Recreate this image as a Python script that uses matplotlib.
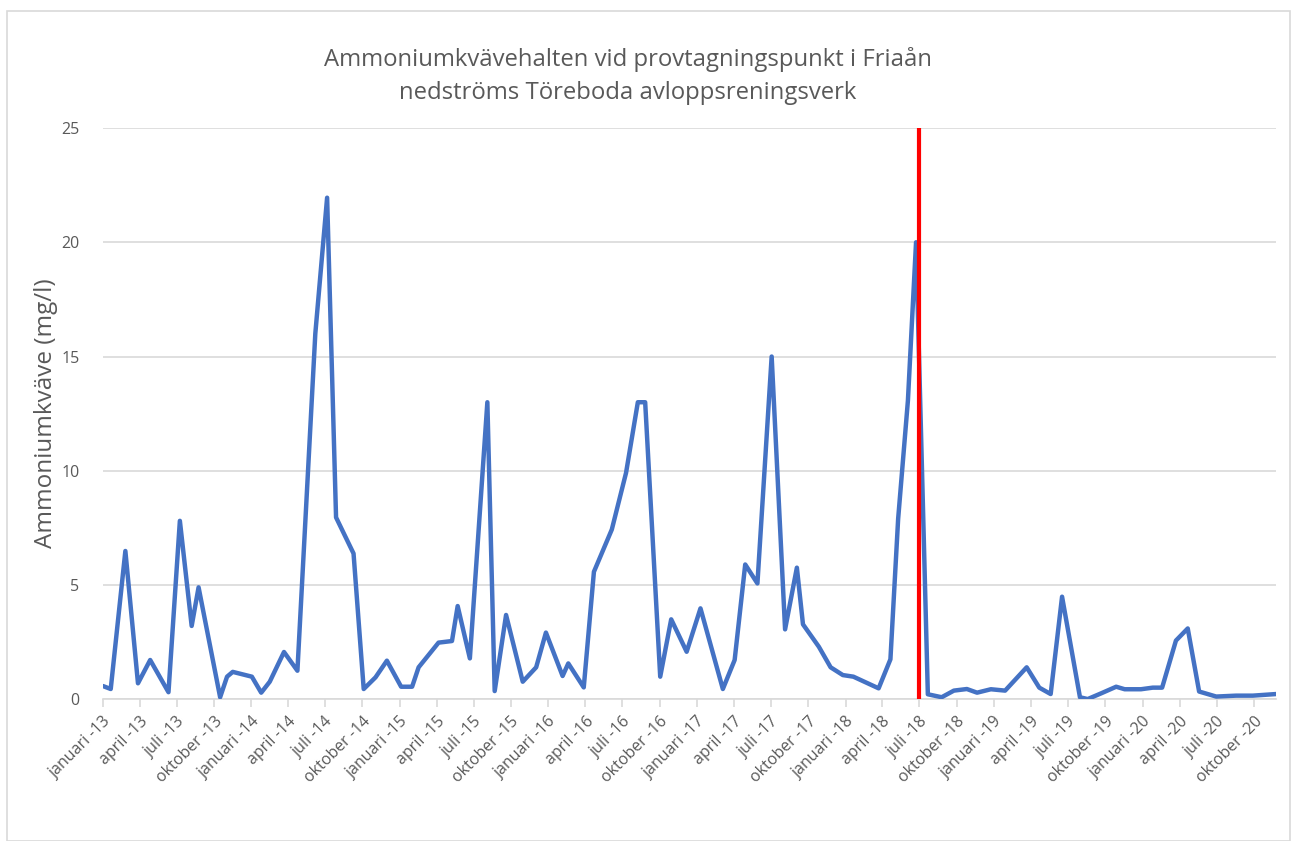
import matplotlib
matplotlib.use("Agg")
import matplotlib.pyplot as plt
from matplotlib.patches import Rectangle
import datetime as dt

# ---- data ----
dates = [
    "2013-01-01", "2013-01-20", "2013-02-25", "2013-03-28", "2013-04-27", "2013-06-11",
    "2013-07-09", "2013-08-07", "2013-08-24", "2013-10-16", "2013-11-02", "2013-11-16",
    "2014-01-02", "2014-01-25", "2014-02-15", "2014-03-22", "2014-04-24", "2014-06-07",
    "2014-07-06", "2014-07-28", "2014-09-09", "2014-10-04", "2014-11-02", "2014-11-30",
    "2015-01-04", "2015-01-31", "2015-02-16", "2015-04-06", "2015-05-09", "2015-05-23",
    "2015-06-22", "2015-08-04", "2015-08-22", "2015-09-19", "2015-10-30", "2015-12-02",
    "2015-12-26", "2016-02-05", "2016-02-19", "2016-03-28", "2016-04-22", "2016-06-05",
    "2016-07-10", "2016-08-08", "2016-08-26", "2016-10-02", "2016-10-29", "2016-12-06",
    "2017-01-09", "2017-03-05", "2017-04-03", "2017-04-29", "2017-05-29", "2017-07-03",
    "2017-08-05", "2017-09-03", "2017-09-18", "2017-10-27", "2017-11-25", "2017-12-25",
    "2018-01-20", "2018-03-23", "2018-04-21", "2018-05-10", "2018-06-03", "2018-06-23",
    "2018-07-22", "2018-08-25", "2018-09-24", "2018-10-26", "2018-11-20", "2018-12-24",
    "2019-01-28", "2019-03-22", "2019-04-22", "2019-05-20", "2019-06-17", "2019-07-31",
    "2019-08-19", "2019-09-21", "2019-10-28", "2019-11-18", "2019-12-28", "2020-01-26",
    "2020-02-18", "2020-03-23", "2020-04-21", "2020-05-19", "2020-06-30", "2020-08-18",
    "2020-09-28", "2020-11-24",
]
values = [
    0.58, 0.45, 6.49, 0.70, 1.72, 0.31,
    7.81, 3.21, 4.90, 0.09, 0.99, 1.20,
    0.99, 0.29, 0.77, 2.07, 1.25, 16.0,
    21.95, 7.96, 6.38, 0.45, 0.96, 1.69,
    0.55, 0.55, 1.40, 2.48, 2.55, 4.08,
    1.79, 13.0, 0.36, 3.69, 0.77, 1.40,
    2.92, 1.02, 1.57, 0.52, 5.58, 7.43,
    9.91, 13.0, 13.0, 0.99, 3.50, 2.08,
    3.98, 0.45, 1.72, 5.90, 5.07, 15.0,
    3.06, 5.76, 3.28, 2.30, 1.40, 1.06,
    0.99, 0.48, 1.75, 7.9, 13.07, 20.0,
    0.22, 0.09, 0.38, 0.45, 0.29, 0.44,
    0.38, 1.40, 0.51, 0.23, 4.49, 0.09,
    0.01, 0.26, 0.55, 0.44, 0.44, 0.51,
    0.51, 2.57, 3.10, 0.34, 0.12, 0.16,
    0.16, 0.23,
]
marker_date = "2018-07-01"
marker_range = [0, 25]
month_names = ["januari", "februari", "mars", "april", "maj", "juni", "juli",
               "augusti", "september", "oktober", "november", "december"]
y_ticks = [0, 5, 10, 15, 20, 25]
title = "Ammoniumkvävehalten vid provtagningspunkt i Friaån\nnedströms Töreboda avloppsreningsverk"
ylabel = "Ammoniumkväve (mg/l)"

# ---- plot ----
plt.rcParams["font.family"] = ["Open Sans", "DejaVu Sans"]
grey_text = "#595959"
grid_col = "#D9D9D9"

fig = plt.figure(figsize=(12.93, 8.41), dpi=100)
ax = fig.add_axes([103 / 1293, 1 - 699.3 / 841, (1276 - 103) / 1293, (699.3 - 128) / 841])

x = [dt.datetime.strptime(d, "%Y-%m-%d") for d in dates]
ax.plot(x, values, color="#4472C4", linewidth=3.2, solid_joinstyle="round",
        solid_capstyle="round", zorder=3)
md = dt.datetime.strptime(marker_date, "%Y-%m-%d")
ax.plot([md, md], marker_range, color="#FF0000", linewidth=3.0, zorder=4,
        solid_capstyle="butt")

ax.set_xlim(dt.datetime(2013, 1, 1), x[-1])
ax.set_ylim(0, 25)
ax.set_yticks(y_ticks)
ax.yaxis.grid(True, color=grid_col, linewidth=1.2)
ax.set_axisbelow(True)

ticks = []
labels = []
for yr in range(2013, 2021):
    for m in (1, 4, 7, 10):
        ticks.append(dt.datetime(yr, m, 1))
        labels.append(f"{month_names[m - 1]} -{yr % 100:02d}")
ax.set_xticks(ticks)
ax.set_xticklabels(labels, rotation=45, ha="right", rotation_mode="anchor",
                   fontsize=11.5, color=grey_text)

for s in ("top", "right", "left"):
    ax.spines[s].set_visible(False)
ax.spines["bottom"].set_color(grid_col)
ax.spines["bottom"].set_linewidth(1.2)
ax.tick_params(axis="x", colors=grid_col, length=6, width=1.2, pad=4, labelcolor=grey_text)
ax.tick_params(axis="y", length=0, pad=17, labelsize=11.5, labelcolor=grey_text)

ax.set_ylabel(ylabel, fontsize=17.5, color=grey_text, labelpad=2)
fig.text(628 / 1293, 1 - 76 / 841, title, ha="center", va="center", fontsize=17.2,
         color=grey_text, linespacing=1.45)

fig.patches.append(Rectangle((7 / 1293, 0), 1 - 10 / 1293, 1 - 11 / 841,
                             transform=fig.transFigure, fill=False,
                             edgecolor=grid_col, linewidth=1.2))

fig.savefig("out.png", dpi=100, facecolor="white")
